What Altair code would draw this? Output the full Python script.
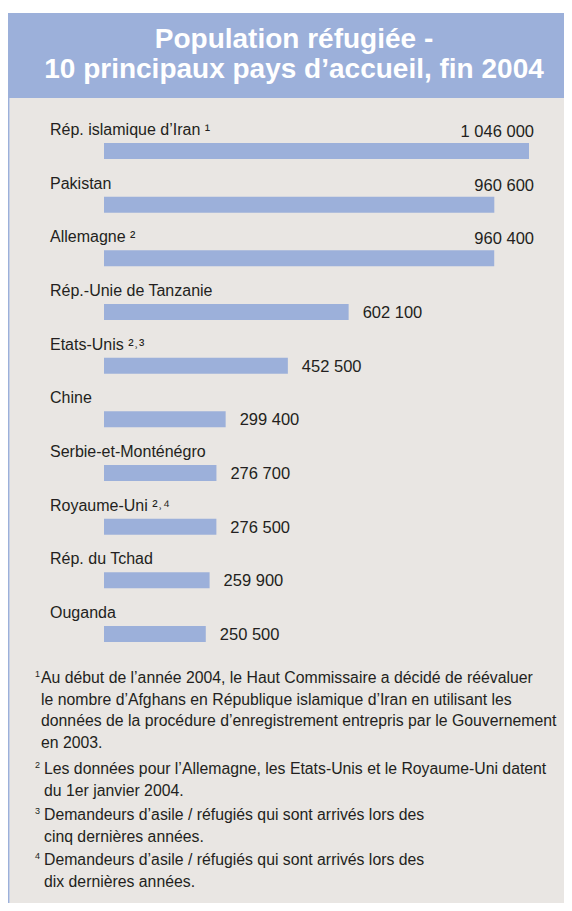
import altair as alt
import pandas as pd

# ---- data ----
countries = [
    "Rép. islamique d’Iran ¹",
    "Pakistan",
    "Allemagne ²",
    "Rép.-Unie de Tanzanie",
    "Etats-Unis ²˒³",
    "Chine",
    "Serbie-et-Monténégro",
    "Royaume-Uni ²˒⁴",
    "Rép. du Tchad",
    "Ouganda",
]
values = [1046000, 960600, 960400, 602100, 452500, 299400, 276700, 276500, 259900, 250500]
value_labels = ["1 046 000", "960 600", "960 400", "602 100", "452 500",
                "299 400", "276 700", "276 500", "259 900", "250 500"]

title_lines = ["Population réfugiée -", "10 principaux pays d’accueil, fin 2004"]

footnote_marks = ["1", "2", "3", "4"]
footnotes = [
    ["Au début de l’année 2004, le Haut Commissaire a décidé de réévaluer",
     "le nombre d’Afghans en République islamique d’Iran en utilisant les",
     "données de la procédure d’enregistrement entrepris par le Gouvernement",
     "en 2003."],
    ["Les données pour l’Allemagne, les Etats-Unis et le Royaume-Uni datent",
     "du 1er janvier 2004."],
    ["Demandeurs d’asile / réfugiés qui sont arrivés lors des",
     "cinq dernières années."],
    ["Demandeurs d’asile / réfugiés qui sont arrivés lors des",
     "dix dernières années."],
]

df = pd.DataFrame({
    "country": countries,
    "value": values,
    "label": value_labels,
    "rank": list(range(len(countries))),
})

W, H = 556, 895
BLUE = "#9CB0DA"
PANEL = "#E9E6E3"
TEXT = "#231F20"
FONT = "Liberation Sans"

xs = alt.Scale(domain=[0, max(values)], range=[96, 521], padding=0)
ys = alt.Scale(domain=[0, len(countries) - 1], range=[143, 626], padding=0)


def textchart(s):
    return alt.Chart(pd.DataFrame({"t": [s]}))


one = pd.DataFrame({"a": [0]})
base1 = alt.Chart(one)

header = base1.mark_rect(color=BLUE).encode(
    x=alt.value(0), x2=alt.value(W), y=alt.value(5), y2=alt.value(90))
panel = base1.mark_rect(color=PANEL).encode(
    x=alt.value(1.5), x2=alt.value(W), y=alt.value(90), y2=alt.value(H))
border = base1.mark_rect(color=BLUE).encode(
    x=alt.value(0), x2=alt.value(1.5), y=alt.value(5), y2=alt.value(H))

title = textchart("\n".join(title_lines)).mark_text(
    font=FONT, fontSize=28, fontWeight="bold", color="white",
    align="center", baseline="alphabetic", lineHeight=30, lineBreak="\n",
).encode(x=alt.value(286), y=alt.value(40), text="t:N")

base = alt.Chart(df)

bars = base.mark_bar(orient="horizontal", size=16, color=BLUE).encode(
    x=alt.X("value:Q", scale=xs, axis=None),
    y=alt.Y("rank:Q", scale=ys, axis=None),
)

names = base.mark_text(
    font=FONT, fontSize=16, color=TEXT, align="left", baseline="alphabetic", dy=-16
).encode(
    x=alt.value(42),
    y=alt.Y("rank:Q", scale=ys, axis=None),
    text="country:N",
)

top_vals = base.transform_filter("datum.rank < 3").transform_joinaggregate(
    vmax="max(value)"
).mark_text(
    font=FONT, fontSize=16.5, color=TEXT, align="right", baseline="alphabetic", dx=5, dy=-14
).encode(
    x=alt.X("vmax:Q", scale=xs, axis=None),
    y=alt.Y("rank:Q", scale=ys, axis=None),
    text="label:N",
)

other_vals = base.transform_filter("datum.rank >= 3").mark_text(
    font=FONT, fontSize=16.5, color=TEXT, align="left", baseline="middle", dx=14, dy=1
).encode(
    x=alt.X("value:Q", scale=xs, axis=None),
    y=alt.Y("rank:Q", scale=ys, axis=None),
    text="label:N",
)

fn_layers = []
fn_y = [675, 766, 812, 857]
for i, (mark, lines) in enumerate(zip(footnote_marks, footnotes)):
    tx = 33 if i == 0 else 36
    fn_layers.append(textchart("\n".join(lines)).mark_text(
        font=FONT, fontSize=15.8, color=TEXT, align="left", baseline="alphabetic",
        lineHeight=21.7, lineBreak="\n",
    ).encode(x=alt.value(tx), y=alt.value(fn_y[i]), text="t:N"))
    fn_layers.append(textchart(mark).mark_text(
        font=FONT, fontSize=9, color=TEXT, align="left", baseline="alphabetic",
    ).encode(x=alt.value(27), y=alt.value(fn_y[i] - 6), text="t:N"))

chart = alt.layer(
    header, panel, border, title, bars, names, top_vals, other_vals, *fn_layers
).properties(
    width=W, height=H, padding=0, autosize="none", background="white"
).configure_view(strokeWidth=0)

chart.save("out.html", embed_options={"renderer": "svg", "actions": False})
